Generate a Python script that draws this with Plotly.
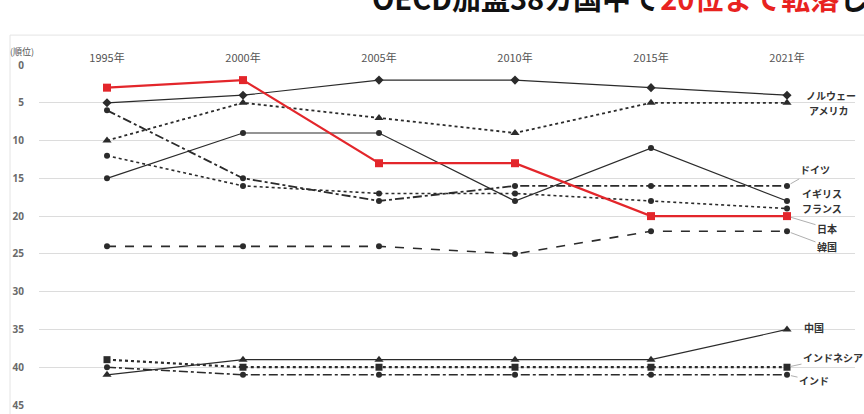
import plotly.graph_objects as go

years = ["1995年", "2000年", "2005年", "2010年", "2015年", "2021年"]

countries = ["ノルウェー", "アメリカ", "ドイツ", "イギリス", "フランス", "日本", "韓国", "中国", "インドネシア", "インド"]
norway = [5, 4, 2, 2, 3, 4]
usa = [10, 5, 7, 9, 5, 5]
germany = [6, 15, 18, 16, 16, 16]
uk = [15, 9, 9, 18, 11, 18]
france = [12, 16, 17, 17, 18, 19]
japan = [3, 2, 13, 13, 20, 20]
korea = [24, 24, 24, 25, 22, 22]
china = [41, 39, 39, 39, 39, 35]
indonesia = [39, 40, 40, 40, 40, 40]
india = [40, 41, 41, 41, 41, 41]

y_ticks = [0, 5, 10, 15, 20, 25, 30, 35, 40, 45]

DARK = "#2b2b2b"
RED = "#e3262b"

styles = {
    "ノルウェー": dict(data=norway, color=DARK, dash="solid", width=1.2, symbol="diamond", size=7),
    "アメリカ": dict(data=usa, color=DARK, dash="dot", width=1.8, symbol="triangle-up", size=8),
    "ドイツ": dict(data=germany, color=DARK, dash="dashdot", width=1.8, symbol="circle", size=6),
    "イギリス": dict(data=uk, color=DARK, dash="solid", width=1.2, symbol="circle", size=6),
    "フランス": dict(data=france, color=DARK, dash="dot", width=1.6, symbol="circle", size=6),
    "日本": dict(data=japan, color=RED, dash="solid", width=2.2, symbol="square", size=8),
    "韓国": dict(data=korea, color=DARK, dash="dash", width=1.6, symbol="circle", size=6),
    "中国": dict(data=china, color=DARK, dash="solid", width=1.2, symbol="triangle-up", size=8),
    "インドネシア": dict(data=indonesia, color=DARK, dash="dot", width=2.2, symbol="square", size=7),
    "インド": dict(data=india, color=DARK, dash="dashdot", width=1.6, symbol="circle", size=6),
}

# label offsets (px) from the 2021 point, and whether a leader line is drawn
label_offsets = {
    "ノルウェー": (44, 0, False),
    "アメリカ": (42, 8, False),
    "ドイツ": (28, -16, True),
    "イギリス": (35, -8, False),
    "フランス": (35, 0, False),
    "日本": (40, 12, True),
    "韓国": (40, 15, True),
    "中国": (27, -2, False),
    "インドネシア": (46, -10, True),
    "インド": (27, 6, True),
}

fig = go.Figure()
order = ["韓国", "インド", "インドネシア", "中国", "フランス", "ドイツ", "イギリス", "アメリカ", "ノルウェー", "日本"]
for name in order:
    s = styles[name]
    fig.add_trace(go.Scatter(
        x=years, y=s["data"], mode="lines+markers", name=name,
        line=dict(color=s["color"], dash=s["dash"], width=s["width"]),
        marker=dict(symbol=s["symbol"], size=s["size"], color=s["color"]),
        showlegend=False, cliponaxis=False,
    ))

annotations = []
for name in countries:
    ax, ay, leader = label_offsets[name]
    annotations.append(dict(
        x=years[-1], y=styles[name]["data"][-1], xref="x", yref="y",
        text="<b>" + name + "</b>", showarrow=True, ax=ax, ay=ay,
        arrowhead=0, arrowwidth=0.8,
        arrowcolor="#9a9a9a" if leader else "rgba(0,0,0,0)",
        standoff=4,
        font=dict(family="Noto Sans CJK JP", size=10, color="#333333"),
        xanchor="center", yanchor="middle",
    ))

annotations.append(dict(
    x=-0.021, y=1.041, xref="paper", yref="paper", showarrow=False,
    text="(順位)", font=dict(family="Noto Sans CJK JP", size=9, color="#555555"),
    xanchor="center", yanchor="middle",
))
annotations.append(dict(
    x=0.406, y=1.20, xref="paper", yref="paper", showarrow=False,
    text="<b>OECD加盟38カ国中で<span style='color:#e8231f'>20位まで転落</span>し</b>",
    font=dict(family="Noto Sans CJK JP", size=29, color="#111111"),
    xanchor="left", yanchor="middle",
))

fig.update_layout(
    width=864, height=414,
    margin=dict(l=39, r=9, t=65, b=9, autoexpand=False),
    paper_bgcolor="white", plot_bgcolor="white",
    annotations=annotations,
    shapes=[
        dict(type="line", xref="paper", yref="paper", x0=-0.0355, x1=1.02, y0=1.088, y1=1.088,
             line=dict(color="#e4e4e4", width=1)),
        dict(type="line", xref="paper", yref="paper", x0=-0.0355, x1=-0.0355, y0=-0.05, y1=1.088,
             line=dict(color="#e4e4e4", width=1)),
    ],
    xaxis=dict(
        type="category", categoryorder="array", categoryarray=years,
        range=[-0.5, 5.5], side="top", showgrid=False, zeroline=False, showline=False,
        ticks="", automargin=False,
        tickfont=dict(family="Noto Sans CJK JP", size=11, color="#555555"),
    ),
    yaxis=dict(
        range=[45, 0], tickvals=y_ticks, ticktext=["<b>" + str(v) + "</b>" for v in y_ticks],
        showgrid=True, gridcolor="#dcdcdc", gridwidth=1, zeroline=False, showline=False,
        ticks="", automargin=False,
        tickfont=dict(family="Noto Sans", size=10, color="#6a6a6a"),
        ticklabelstandoff=14,
    ),
)

fig.write_html(
    "out.html",
    config={"displayModeBar": False},
    post_script="document.body.style.margin='0';document.body.style.overflow='hidden';",
)
